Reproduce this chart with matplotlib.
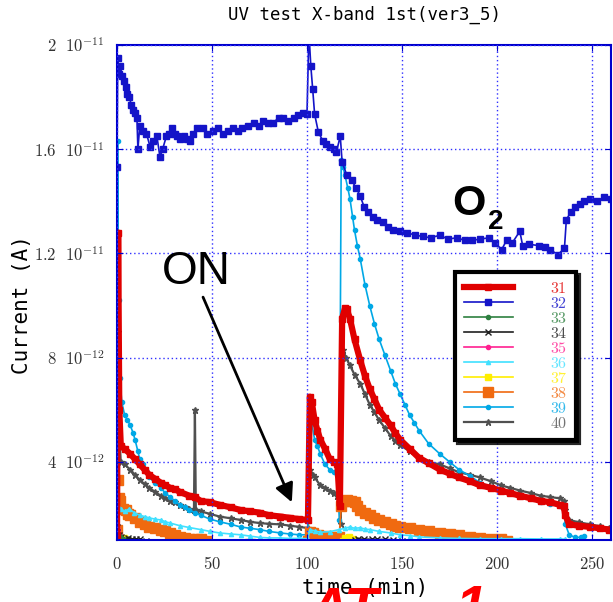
import numpy as np
import matplotlib.pyplot as plt

plt.rcParams['mathtext.fontset'] = 'cm'

# ---- data (time in min, current in 1e-12 A) ----
t31 = [0, 0.6, 1.2, 2, 4, 7, 9.5, 12, 14.5, 17, 20, 23, 25.5, 28, 30.5, 33, 38, 41, 44, 49, 54, 60,
       65, 70, 75, 80, 86, 91, 96, 100.5, 101.5, 102.5, 104, 105.5, 107, 109.5, 112, 114, 116, 117.3,
       118.5, 120, 121, 122.6, 125, 128, 130.5, 133, 135.5, 138, 141, 144, 146.5, 149, 154, 159, 164,
       170, 175, 180, 186, 191, 197, 202, 207, 212, 218, 223, 228, 233, 235, 236, 238, 243, 249, 254, 259]
i31 = [1.2, 12.8, 6.0, 4.6, 4.5, 4.3, 4.1, 3.9, 3.7, 3.5, 3.35, 3.2, 3.1, 3.0, 2.95, 2.85, 2.7, 2.65,
       2.5, 2.45, 2.35, 2.25, 2.15, 2.1, 2.05, 1.95, 1.9, 1.85, 1.8, 1.77, 6.5, 6.3, 5.6, 5.2, 4.85, 4.5,
       4.1, 4.0, 3.9, 2.3, 9.5, 9.9, 9.85, 9.5, 8.7, 7.9, 7.3, 6.8, 6.4, 6.0, 5.7, 5.4, 5.1, 4.85, 4.5,
       4.15, 3.95, 3.7, 3.55, 3.4, 3.25, 3.1, 3.0, 2.9, 2.8, 2.7, 2.6, 2.5, 2.45, 2.35, 2.3, 1.95, 1.6,
       1.55, 1.5, 1.45, 1.4]

t32 = [0, 0.4, 1.0, 1.8, 2.6, 3.5, 4.5, 5.5, 6.5, 7.5, 8.5, 9.5, 10.5, 11, 12, 13.7, 15.5, 17.4, 19,
       21, 22.6, 24, 26, 27.5, 29, 30.5, 31.5, 33, 35, 37, 38.5, 40, 42, 45, 47.5, 50.5, 53, 56, 58.5,
       61, 63.5, 66, 69, 72, 74.5, 77, 79.5, 82, 85, 87.5, 90, 93, 95.5, 98, 100, 101, 102, 103, 104,
       106, 108.5, 110, 112, 114, 115.5, 117.5, 118.5, 121, 123.5, 126, 128, 130, 132, 134.5, 137, 140,
       142.5, 145, 149, 152.5, 157, 161, 165, 170, 174, 179, 183, 187, 191, 196, 199, 202.5, 205, 208,
       212, 213.5, 217, 222, 225, 228, 232, 235.5, 236.5, 239, 241, 243.5, 246, 249, 252.5, 256.5, 260]
i32 = [15.3, 19.5, 18.9, 19.2, 18.8, 18.6, 18.4, 18.1, 18.0, 17.7, 17.5, 17.4, 17.2, 16.0, 16.9, 16.7,
       16.6, 16.1, 16.3, 16.5, 15.7, 16.0, 16.5, 16.6, 16.8, 16.6, 16.5, 16.4, 16.5, 16.4, 16.3, 16.6,
       16.8, 16.8, 16.6, 16.7, 16.8, 16.6, 16.7, 16.8, 16.7, 16.8, 16.9, 17.0, 16.9, 17.1, 17.0, 17.0,
       17.2, 17.2, 17.1, 17.2, 17.3, 17.4, 17.35, 20.5, 19.2, 18.3, 17.35, 16.65, 16.3, 16.2, 16.1, 16.0,
       15.9, 16.5, 15.5, 15.0, 14.8, 14.5, 14.2, 13.8, 13.6, 13.4, 13.3, 13.2, 13.0, 12.9, 12.85, 12.8,
       12.7, 12.65, 12.6, 12.7, 12.55, 12.6, 12.5, 12.5, 12.55, 12.6, 12.4, 12.15, 12.5, 12.4, 12.85,
       12.3, 12.35, 12.3, 12.25, 12.15, 11.95, 12.2, 13.3, 13.6, 13.8, 13.9, 14.0, 14.1, 14.0, 14.15,
       14.1]

t33 = [0, 1.5, 3, 5, 8]
i33 = [1.3, 1.15, 1.05, 0.97, 0.9]

t34 = [0, 1, 2, 4, 6, 8, 10, 12, 15, 60, 120, 125, 127, 130, 134, 137, 141, 145, 150]
i34 = [1.5, 1.2, 1.1, 1.05, 1.06, 1.03, 1.04, 1.02, 0.95, 0.8, 0.9, 1.0, 1.04, 1.03, 1.03, 1.02, 1.02,
       1.01, 0.95]

t35 = [0, 0.5, 1.5, 3, 5]
i35 = [1.5, 1.4, 1.2, 1.05, 0.95]

t36 = [0, 0.5, 2, 4, 6.5, 9, 12, 14.5, 17, 20, 23, 25.5, 28, 33, 38, 44, 49, 54, 60, 65, 70, 75, 80,
       86, 91, 96, 100.5, 101.5, 104, 107, 112, 117, 120, 122.6, 125, 128, 130.5, 133, 138, 144, 149,
       154, 159, 170, 180, 191, 202, 212, 223, 233, 236]
i36 = [1.1, 2.3, 2.2, 2.1, 2.2, 2.05, 1.95, 1.9, 1.85, 1.8, 1.77, 1.7, 1.65, 1.55, 1.48, 1.4, 1.33,
       1.27, 1.23, 1.2, 1.15, 1.1, 1.08, 1.08, 1.06, 1.06, 1.05, 1.4, 1.35, 1.3, 1.32, 1.4, 1.45, 1.5,
       1.45, 1.47, 1.42, 1.4, 1.33, 1.27, 1.2, 1.17, 1.12, 1.08, 1.06, 1.05, 1.05, 1.05, 1.04, 1.04, 1.03]

t37 = [0, 1, 2, 3.5, 5, 7, 60, 119, 120, 122, 124, 126]
i37 = [1.3, 1.1, 1.05, 1.08, 1.0, 0.95, 0.8, 0.98, 1.08, 1.1, 1.05, 0.97]

t38 = [0, 0.5, 1, 1.5, 3, 4.5, 6, 7, 9.5, 12, 14.5, 17, 20, 23, 25.5, 28, 30.5, 33, 36, 38, 42, 44,
       47, 70, 100.5, 101.5, 103, 106, 110, 114, 117, 118, 119.5, 121, 123, 125, 126.5, 128, 130.5, 133,
       135.5, 138, 141, 144, 146.5, 149, 154, 159, 164, 170, 175, 180, 186, 191, 197, 202, 205]
i38 = [1.4, 3.3, 2.6, 2.5, 2.2, 2.15, 2.0, 1.95, 1.85, 1.7, 1.6, 1.5, 1.45, 1.4, 1.33, 1.27, 1.2, 1.1,
       1.07, 1.05, 1.03, 1.04, 0.98, 0.85, 0.95, 1.3, 1.25, 1.2, 1.15, 1.12, 1.1, 2.3, 2.5, 2.55, 2.5,
       2.45, 2.3, 2.15, 2.05, 1.95, 1.85, 1.77, 1.68, 1.6, 1.55, 1.5, 1.45, 1.4, 1.33, 1.27, 1.23, 1.2,
       1.13, 1.08, 1.05, 1.03, 0.95]

t39 = [0, 0.3, 0.8, 1.5, 2.5, 4, 5.5, 7, 8.5, 9.5, 11, 12, 13.5, 15, 17, 20, 23, 25.5, 28, 30.5, 33,
       36, 38, 41, 44, 49, 54, 60, 65, 70, 75, 80, 86, 91, 96, 100.5, 101.5, 102.5, 104, 105.5, 107,
       109.5, 112, 114, 116, 117, 118, 119, 120, 121.5, 122.6, 124, 125, 126.5, 128, 130.5, 133, 135.5,
       138, 141, 144, 146.5, 149, 151.5, 154, 156.5, 159, 164, 170, 175, 180, 186, 191, 197, 202, 207,
       212, 218, 223, 228, 233, 235, 236, 238, 241, 244, 246]
i39 = [1.3, 16.3, 10.2, 7.2, 6.3, 5.8, 5.6, 5.4, 5.1, 4.85, 4.4, 4.1, 3.9, 3.7, 3.4, 3.2, 3.0, 2.8,
       2.65, 2.5, 2.35, 2.25, 2.15, 2.05, 1.95, 1.8, 1.7, 1.6, 1.5, 1.45, 1.4, 1.33, 1.27, 1.23, 1.2,
       1.2, 6.0, 5.5, 4.85, 4.6, 4.3, 3.9, 3.7, 3.6, 3.5, 1.77, 15.6, 15.3, 15.0, 14.5, 14.1, 13.4, 12.9,
       12.3, 11.8, 10.8, 10.0, 9.3, 8.7, 8.1, 7.5, 7.0, 6.6, 6.2, 5.8, 5.5, 5.2, 4.7, 4.3, 4.0, 3.7,
       3.45, 3.2, 3.05, 2.9, 2.8, 2.7, 2.6, 2.45, 2.4, 2.3, 2.2, 1.6, 1.2, 1.1, 1.1, 1.15]

t40 = [0, 0.5, 1.2, 2, 4, 7, 9.5, 12, 14.5, 17, 20, 23, 25.5, 28, 30.5, 33, 36, 38, 40.5, 41, 41.5,
       44, 49, 54, 60, 65, 70, 75, 80, 86, 91, 96, 100.5, 101.5, 103, 104, 107, 109.5, 112, 114, 116,
       117, 117.7, 119, 120.5, 122.6, 125, 128, 130.5, 133, 135.5, 138, 141, 144, 146.5, 149, 154, 159,
       164, 170, 175, 180, 186, 191, 197, 202, 207, 212, 218, 223, 228, 233, 235, 236, 238, 243, 249,
       254, 259]
i40 = [1.3, 9.0, 5.0, 4.0, 3.9, 3.7, 3.5, 3.3, 3.15, 3.0, 2.85, 2.7, 2.6, 2.5, 2.45, 2.35, 2.25, 2.2,
       2.15, 6.0, 2.15, 2.1, 2.0, 1.9, 1.83, 1.77, 1.7, 1.65, 1.62, 1.6, 1.55, 1.5, 1.46, 3.7, 3.5, 3.4,
       3.1, 3.0, 2.9, 2.8, 2.7, 2.9, 1.6, 8.3, 8.0, 7.7, 7.35, 7.0, 6.6, 6.2, 5.9, 5.6, 5.3, 5.0, 4.8,
       4.65, 4.4, 4.15, 4.0, 3.9, 3.75, 3.6, 3.5, 3.4, 3.25, 3.1, 3.0, 2.9, 2.8, 2.7, 2.65, 2.6, 2.5,
       2.15, 1.77, 1.68, 1.6, 1.53, 1.46]

x_ticks = [0, 50, 100, 150, 200, 250]
y_ticks = [4e-12, 8e-12, 1.2e-11, 1.6e-11, 2e-11]
y_tick_labels = [r'$4\ \ 10^{-12}$', r'$8\ \ 10^{-12}$', r'$1.2\ \ 10^{-11}$',
                 r'$1.6\ \ 10^{-11}$', r'$2\ \ 10^{-11}$']

# label, t, i, color, marker, markersize, linewidth
series = [
    ('31', t31, i31, '#e00000', 's', 4, 4.5),
    ('32', t32, i32, '#1414c8', 's', 4, 1.2),
    ('33', t33, i33, '#2e8040', 'o', 3, 1.2),
    ('34', t34, i34, '#202020', 'x', 4, 1.2),
    ('35', t35, i35, '#ff2090', 'o', 3, 1.2),
    ('36', t36, i36, '#40e0ff', '^', 3, 1.2),
    ('37', t37, i37, '#ffee00', 's', 5, 1.2),
    ('38', t38, i38, '#f06a10', 's', 7, 1.2),
    ('39', t39, i39, '#00a8e6', 'o', 3, 1.2),
    ('40', t40, i40, '#505050', '*', 5, 1.6),
]

fig = plt.figure(figsize=(6.13, 6.02), dpi=100)
ax = fig.add_axes([117 / 613, 62 / 602, 494 / 613, 495 / 602])

# draw back to front so red ends up on top, as in the original
for lab, t, i, col, mk, ms, lw in series[::-1]:
    ax.plot(t, np.array(i) * 1e-12, color=col, marker=mk, markersize=ms,
            linewidth=lw, markeredgewidth=1, label=lab)

ax.set_xlim(0, 260)
ax.set_ylim(1e-12, 2e-11)
ax.set_xticks(x_ticks, labels=[rf'${v}$' for v in x_ticks])
ax.set_yticks(y_ticks, labels=y_tick_labels)
ax.tick_params(direction='in', colors='#0000cc', labelcolor='#333333', labelsize=12,
               top=True, right=True, length=4)
ax.tick_params(axis='x', pad=11)
ax.tick_params(axis='y', pad=9)
for s in ax.spines.values():
    s.set_color('#0000cc')
    s.set_linewidth(1.5)
ax.grid(True, color='#3030ff', linestyle=(0, (1, 2)), linewidth=1)
ax.set_axisbelow(False)

# legend with coloured labels
handles, labels = ax.get_legend_handles_labels()
handles, labels = handles[::-1], labels[::-1]
leg = ax.legend(handles, [rf'${l}\quad\;\;\;$' for l in labels], loc='upper left',
                bbox_to_anchor=(0.684, 0.541), borderaxespad=0, fancybox=False,
                shadow={'color': 'black', 'alpha': 0.85}, edgecolor='black', framealpha=1,
                fontsize=11.5, handlelength=3.1, handletextpad=2.3, labelspacing=0.0,
                borderpad=0.55)
leg.get_frame().set_linewidth(3)
for txt, (lab, t, i, col, mk, ms, lw) in zip(leg.get_texts(), series):
    txt.set_color(col)
    txt.set_alpha(0.8)

# annotations
ax.text(41.6, 11.27e-12, 'ON', fontsize=33, family='Liberation Sans', ha='center', va='center')
ax.annotate('', xy=(92.6, 2.35e-12), xytext=(44.7, 10.42e-12),
            arrowprops=dict(arrowstyle='-|>', color='black', lw=2, mutation_scale=28))
ax.text(185.0, 13.9e-12, 'O', fontsize=31, family='Liberation Sans', fontweight='bold',
        ha='center', va='center')
ax.text(199.5, 13.2e-12, '2', fontsize=20, family='Liberation Sans', fontweight='bold',
        ha='center', va='center')

fig.text(365 / 613, 1 - 15 / 602, 'UV test X-band 1st(ver3_5)', family='DejaVu Sans Mono',
         fontsize=12.5, ha='center', va='center')
fig.text(365 / 613, 1 - 588 / 602, 'time (min)', family='DejaVu Sans Mono',
         fontsize=15, ha='center', va='center')
fig.text(22 / 613, 1 - 305 / 602, 'Current (A)', family='DejaVu Sans Mono',
         fontsize=15, ha='center', va='center', rotation=90)
# big red text cut off by the bottom edge
fig.text(308 / 613, 1 - 586 / 602, 'AT', color='red', fontsize=40, fontweight='bold',
         style='italic', family='Liberation Sans', ha='left', va='top')
fig.text(455 / 613, 1 - 584 / 602, '1', color='red', fontsize=40, fontweight='bold',
         style='italic', family='Liberation Sans', ha='left', va='top')

fig.savefig('out.png', dpi=100)
